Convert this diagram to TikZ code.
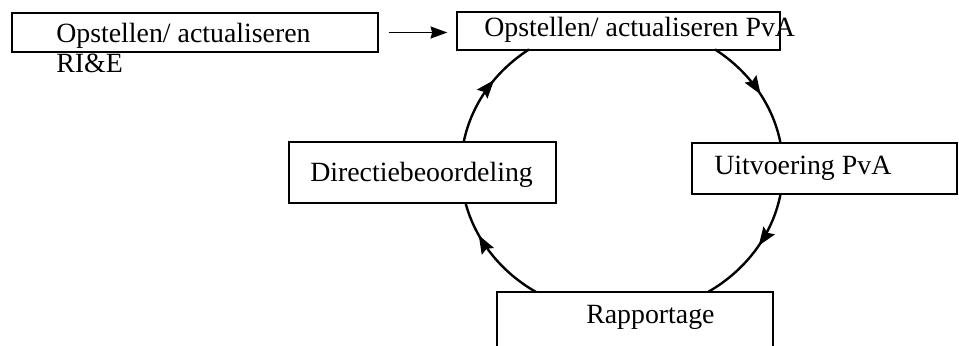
\documentclass[tikz,border=0pt]{standalone}
\usepackage{fontspec}
\setmainfont{Liberation Serif}
\usetikzlibrary{arrows.meta,decorations.markings}
\begin{document}
\begin{tikzpicture}[box/.style={draw,line width=0.9pt,inner sep=0pt},
lbl/.style={anchor=base west,inner sep=0pt,font=\fontsize{19.8}{21.3}\selectfont},
cyc/.style={line width=1.7pt,decoration={markings,mark=at position #1 with {\arrow{Stealth[length=0.46cm,width=0.34cm,inset=0.07cm]}}},postaction={decorate}}]
\useasboundingbox (0,0) rectangle (23.975,8.625);
\node[box,minimum width=9.15cm,minimum height=0.975cm] (rie) at (4.875,7.8125) {};
\node[box,minimum width=8.075cm,minimum height=0.95cm] (pva) at (15.4625,7.85) {};
\node[box,minimum width=6.675cm,minimum height=1.525cm] (dir) at (10.5625,4.3125) {};
\node[box,minimum width=6.625cm,minimum height=1.275cm] (uitv) at (20.6125,4.4125) {};
\node[box,minimum width=6.9cm,minimum height=2cm] (rap) at (15.875,0.325) {};
\node[lbl,anchor=north west,align=left] (rietxt) at (1.4,8.055) {Opstellen/ actualiseren\\RI\&E};
\node[lbl] (pvatxt) at (12.1,7.7) {Opstellen/ actualiseren PvA};
\node[lbl] (dirtxt) at (7.75,4.09) {Directiebeoordeling};
\node[lbl] (uitvtxt) at (17.85,4.26) {Uitvoering PvA};
\node[lbl] (raptxt) at (14.65,0.55) {Rapportage};
\draw[line width=1pt,-{Stealth[length=0.42cm,width=0.3cm,inset=0.04cm]},shorten <=0.25cm,shorten >=0.225cm] (rie.east) -- (rie.east -| pva.west);
\coordinate (ring) at (15.55,4.41);
\draw[cyc=0.55] ([shift={(54.7:4.025 and 3.65)}]ring) arc[start angle=54.7,end angle=10.1,x radius=4.025,y radius=3.65];
\draw[cyc=0.45] ([shift={(-10:4.025 and 3.65)}]ring) arc[start angle=-10,end angle=-57.7,x radius=4.025,y radius=3.65];
\draw[cyc=0.7] ([shift={(-122.3:4.025 and 3.65)}]ring) arc[start angle=-122.3,end angle=-166.4,x radius=4.025,y radius=3.65];
\draw[cyc=0.6] ([shift={(169.5:4.025 and 3.65)}]ring) arc[start angle=169.5,end angle=125.3,x radius=4.025,y radius=3.65];
\end{tikzpicture}
\end{document}
